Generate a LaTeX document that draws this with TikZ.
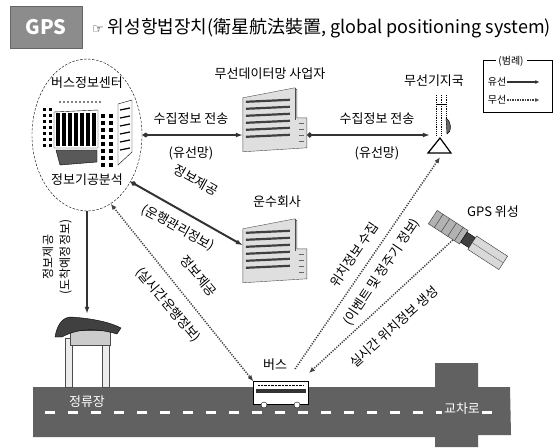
\documentclass[tikz,border=0pt]{standalone}
\usepackage{fontspec}
\setmainfont{Noto Sans CJK KR}
\newfontfamily\symfont{DejaVu Sans}
\usetikzlibrary{arrows.meta,shapes.geometric}
\tikzstyle{lbl}=[inner sep=1pt, font=\fontsize{13}{15}\selectfont]
\tikzstyle{lgd}=[inner sep=1pt, font=\fontsize{10}{11}\selectfont]
\tikzstyle{wired}=[line width=2pt, draw=black!80]
\tikzstyle{wireless}=[line width=1.5pt, draw=black!75, dash pattern=on 1.2pt off 1.3pt]
\tikzstyle{halftone}=[fill=black!62]
\tikzstyle{blk}=[inner sep=0pt, minimum width=64pt, minimum height=64pt]
% office building, top left corner at #1
\newcommand{\officeblk}[1]{%
\begin{scope}[shift={(#1)}]
\filldraw[fill=gray!25, draw=black!70] (0,10) -- (52,0) -- (54,2) -- (54,30) -- (64,30) -- (64,60) -- (0,64) -- cycle;
\draw[black!70] (52,0) -- (52,32);
\foreach \y in {14,21,28,35,42,49}
  \draw[line width=2.2pt, black!75] (3,\y) -- (47,\y-2);
\foreach \y in {36,42,...,56}
  \draw[line width=1.2pt, black!60] (56,\y) -- (61,\y);
\end{scope}}
\begin{document}
\begin{tikzpicture}[x=1pt,y=-1pt]
\useasboundingbox (0,0) rectangle (559,447);

% heading
\node[fill=black!45, draw=black!60, minimum width=72pt, minimum height=42pt, text=white,
  font=\fontsize{20}{22}\selectfont\bfseries] (gps) at (46,27) {GPS};
\node[anchor=west, inner sep=0pt, font=\fontsize{18}{20}\selectfont] (title) at (92,28)
  {{\symfont\fontsize{13}{13}\selectfont ☞}\ 위성항법장치(衛星航法裝置, global positioning system)};

% legend
\draw[line width=1pt] (496,60) -- (483,60) -- (483,112) -- (552,112) -- (552,60) -- (527,60);
\node[lgd] (lgdT) at (511,61) {(범례)};
\node[lgd] (lgdW) at (497,82) {유선};
\node[lgd] (lgdR) at (497,100) {무선};
\draw[wired, line width=2.5pt, -{Latex[length=4pt,width=4pt]}] (lgdW.east) -- ++(32,0) coordinate (lgdWe);
\draw[wireless, -{Latex[open,length=4pt,width=4pt]}] (lgdR.east) -- ++(32,0) coordinate (lgdRe);

% bus information centre
\node[ellipse, draw, dash pattern=on 2.5pt off 1.5pt, minimum width=110pt, minimum height=152pt] (centre) at (87,135) {};
\node[lbl] (centreT) at (87,83) {버스정보센터};
\node[lbl] (centreB) at (87,180) {정보기공분석};
\foreach \x in {60,64,...,100} \fill (\x,102) circle (0.9);
\foreach \y in {108,114,...,144} {\fill (43,\y) rectangle (46,\y+3); \fill (49,\y) rectangle (52,\y+3);}
\draw (54,112) -- (98,110) -- (98,148) -- (54,148) -- cycle;
\foreach \x in {56,62,...,92} \fill (\x,113) rectangle (\x+3.5,146);
\filldraw[fill=black!65] (56,150) -- (97,150) -- (97,162) -- (60,165) -- cycle;
\foreach \y in {114,121,...,163} {\fill (101,\y) rectangle (105,\y+3.5); \fill (109,\y) rectangle (113,\y+3.5);}
\draw (118,104) -- (132,100) -- (132,152) -- (118,165) -- cycle;
\foreach \y in {110,118,...,150} \draw[line width=1.2pt] (120,\y) -- (130,\y-2);

% wireless data network provider
\node[blk] (dataco) at (275,120) {};
\node[lbl] (datacoT) at (270,74) {무선데이터망 사업자};
\officeblk{dataco.north west}

% transport company
\node[blk] (transco) at (275,251) {};
\node[lbl] (transcoT) at (277,202) {운수회사};
\officeblk{transco.north west}

% base station
\node[inner sep=0pt, minimum width=20pt, minimum height=44pt] (tower) at (440,135) {};
\node[lbl] (towerT) at (434,81) {무선기지국};
\draw[densely dotted, line width=0.8pt] (436,95) -- (436,136) (441,95) -- (441,136) (446,95) -- (446,120);
\draw[line width=0.8pt] (436,104) -- (446,104);
\filldraw[fill=black!60] (446,118) .. controls (452,122) and (452,132) .. (447,134) -- cycle;
\draw[line width=1.2pt] (440,138) -- (428,153) -- (451,153) -- cycle;

% GPS satellite
\node[inner sep=0pt, minimum size=30pt] (sat) at (468,240) {};
\node[lbl] (satT) at (493,212) {GPS 위성};
\begin{scope}[shift={(sat.center)}, rotate=-33]
\filldraw[fill=gray!60, draw=black!80] (-42,-8) rectangle (-5,8);
\foreach \x in {-35,-27,...,-10} \draw[black!80] (\x,-8) -- (\x,8);
\filldraw[fill=black!75] (-5,-6) rectangle (5,6);
\filldraw[fill=gray!30, draw=black!80] (5,-8) rectangle (42,8);
\draw[black!60] (5,0) -- (42,0);
\end{scope}

% road and crossing
\fill[halftone] (33,387) -- (435,387) -- (435,363) -- (478,363) -- (478,387) -- (510,387)
  -- (511,435) -- (478,435) -- (478,447) -- (435,447) -- (435,437) -- (33,437) -- cycle;
\draw[white, line width=3pt, dash pattern=on 10pt off 13pt] (45,412) -- (505,412);
\node[lbl, text=white, fill=black!62, inner sep=2pt] (crossT) at (462,409) {교차로};

% bus stop
\node[inner sep=0pt, minimum width=66pt, minimum height=76pt] (stop) at (87,352) {};
\filldraw[fill=gray!15, draw=black!70] (65,338) rectangle (72,387) (102,336) rectangle (109,387);
\filldraw[fill=gray!40, draw=black!70] (70,330) rectangle (110,345);
\filldraw[fill=black!75] (55,337) .. controls (57,325) and (62,318) .. (70,317)
  .. controls (90,318) and (110,322) .. (121,328) -- (117,334)
  .. controls (100,329) and (80,327) .. (62,337) -- cycle;
\node[lbl, text=white] (stopT) at (87,402) {정류장};

% bus
\node[draw, fill=white, inner sep=0pt, minimum width=55pt, minimum height=23pt] (bus) at (281,393) {};
\fill[black!80] (256,389) rectangle (306,393);
\draw[densely dotted] (258,385) -- (304,385);
\filldraw[fill=white] (264,405) circle (3) (297,405) circle (3);
\node[lbl] (busT) at (275,365) {버스};
\coordinate (busR) at (295,369);
\coordinate (busS) at (309,373);

% wired links
\draw[wired, {Diamond[open,length=7pt,width=5pt]}-{Latex[length=7pt,width=5pt]}]
  (centre.east) -- (centre.east -| dataco.west);
\node[lbl] (collectA) at (191,119) {수집정보 전송};
\node[lbl] (collectAn) at (191,153) {(유선망)};
\draw[wired, {Circle[open,length=5pt]}-{Latex[length=7pt,width=5pt]}]
  (dataco.east |- tower.west) -- (tower.west);
\node[lbl] (collectB) at (377,119) {수집정보 전송};
\node[lbl] (collectBn) at (377,153) {(유선망)};
\draw[wired, {Diamond[open,length=7pt,width=5pt]}-{Latex[length=7pt,width=5pt]}]
  (centre.-47) -- (transco.170);
\node[lbl, rotate=-29] (opsA) at (196,180) {정보제공};
\node[lbl, rotate=-29] (opsAn) at (178,228) {(운행관리정보)};
\draw[wired, line width=1.5pt, -{Latex[length=7pt,width=5pt]}] (centre.south) -- (stop.north);
\node[lbl, rotate=90, align=center, font=\fontsize{12}{17}\selectfont] (arrival) at (57,257) {정보제공\\(도착예정정보)};

% wireless links
\draw[wireless, {Latex[open,length=6pt,width=5pt]}-{Latex[open,length=6pt,width=5pt]}]
  (centre.-71) -- (bus.north west);
\node[lbl, rotate=-50] (liveA) at (199,276) {정보제공};
\node[lbl, rotate=-50] (liveAn) at (168,305) {(실시간운행정보)};
\draw[wireless, -{Latex[open,length=6pt,width=5pt]}] (busR) -- (tower.south);
\node[lbl, rotate=56] (posA) at (354,255) {위치정보 수집};
\node[lbl, rotate=56] (posAn) at (382,272) {(이벤트 및 정주기 정보)};
\draw[wireless, -{Latex[open,length=6pt,width=5pt]}] (sat.west) -- (busS);
\node[lbl, rotate=42] (posB) at (394,327) {실시간 위치정보 생성};
\end{tikzpicture}
\end{document}
